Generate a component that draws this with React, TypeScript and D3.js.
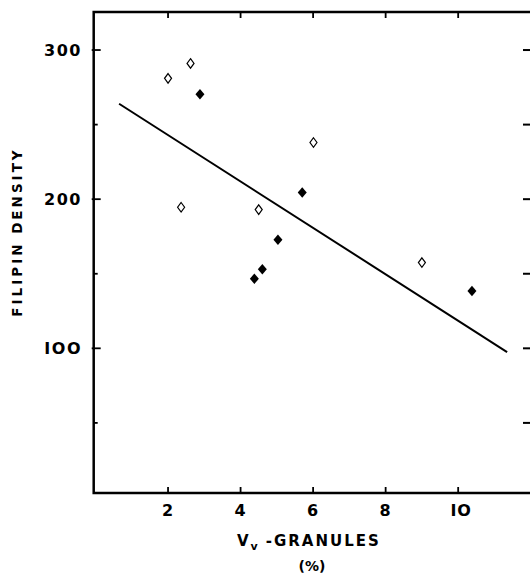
import React from "react";
import * as d3 from "d3";

const xTicks = [2, 4, 6, 8, 10];
const xTickLabels = ["2", "4", "6", "8", "IO"];
const yMajor = [100, 200, 300];
const yMajorLabels = ["IOO", "200", "300"];
const yMinor = [50, 150, 250];
const rightTicks = [50, 100, 150, 200, 250, 300];

const openX = [2.0, 2.62, 2.36, 4.5, 6.01, 9.0];
const openY = [281, 291, 194.6, 193, 238, 157.5];
const filledX = [2.88, 5.7, 5.03, 4.6, 4.38, 10.38];
const filledY = [270.4, 204.5, 172.8, 153, 146.6, 138.5];

const lineX = [0.65, 11.35];
const lineY = [264, 97.5];

const W = 530;
const H = 574;

export default function App() {
  const x = d3.scaleLinear().domain([-0.05, 12]).range([93.7, 530.7]);
  const y = d3.scaleLinear().domain([3, 325.5]).range([493, 12]);
  const font = "'DejaVu Sans', 'Liberation Sans', sans-serif";

  const diamond = (cx: number, cy: number, w: number, h: number) =>
    `M${cx},${cy - h / 2}L${cx + w / 2},${cy}L${cx},${cy + h / 2}L${cx - w / 2},${cy}Z`;

  const line = d3
    .line<number>()
    .x((d) => x(lineX[d]))
    .y((d) => y(lineY[d]));

  const x0 = x(-0.05);
  const x1 = x(12);
  const yb = y(3);
  const yt = y(325.5);

  return (
    <svg
      width={W}
      height={H}
      style={{ position: "absolute", left: 0, top: 0, background: "#fff" }}
    >
      {/* frame */}
      <path
        d={`M${x1},${yt}L${x0},${yt}L${x0},${yb}L${x1},${yb}`}
        fill="none"
        stroke="#000"
        strokeWidth={2.5}
      />
      {/* bottom & top ticks */}
      {xTicks.map((t) => (
        <g key={"xt" + t}>
          <line x1={x(t)} x2={x(t)} y1={yb} y2={yb - 6} stroke="#000" strokeWidth={1.8} />
          <line x1={x(t)} x2={x(t)} y1={yt} y2={yt + 6} stroke="#000" strokeWidth={1.8} />
        </g>
      ))}
      {xTicks.map((t, i) => (
        <text
          key={"xl" + t}
          x={x(t) + (i === 4 ? 3 : 0)}
          y={516}
          textAnchor="middle"
          fontFamily={font}
          fontWeight="bold"
          fontSize={16}
          letterSpacing={1}
        >
          {xTickLabels[i]}
        </text>
      ))}
      {/* left ticks */}
      {yMajor.map((t) => (
        <line key={"ym" + t} x1={x0 - 2} x2={x0 + 7} y1={y(t)} y2={y(t)} stroke="#000" strokeWidth={1.8} />
      ))}
      {yMinor.map((t) => (
        <line key={"yn" + t} x1={x0} x2={x0 + 4} y1={y(t)} y2={y(t)} stroke="#000" strokeWidth={1.8} />
      ))}
      {yMajor.map((t, i) => (
        <text
          key={"yl" + t}
          x={82}
          y={y(t) + 6}
          textAnchor="end"
          fontFamily={font}
          fontWeight="bold"
          fontSize={16}
          letterSpacing={1.5}
        >
          {yMajorLabels[i]}
        </text>
      ))}
      {/* right ticks */}
      {rightTicks.map((t) => (
        <line key={"yr" + t} x1={523} x2={530} y1={y(t)} y2={y(t)} stroke="#000" strokeWidth={2} />
      ))}
      {/* regression line */}
      <path d={line([0, 1]) || ""} fill="none" stroke="#000" strokeWidth={2} />
      {/* open diamonds */}
      {openX.map((v, i) => (
        <path
          key={"o" + i}
          d={diamond(x(v), y(openY[i]), 7, 9.5)}
          fill="#fff"
          stroke="#000"
          strokeWidth={1.2}
        />
      ))}
      {/* filled diamonds */}
      {filledX.map((v, i) => (
        <path key={"f" + i} d={diamond(x(v), y(filledY[i]), 9, 10.5)} fill="#000" />
      ))}
      {/* y title */}
      <text
        transform={`translate(22,232) rotate(-90)`}
        textAnchor="middle"
        fontFamily={font}
        fontWeight="bold"
        fontSize={13.5}
        letterSpacing={3}
      >
        FILIPIN DENSITY
      </text>
      {/* x title */}
      <text x={237} y={546} fontFamily={font} fontWeight="bold" fontSize={15} letterSpacing={2}>
        V
        <tspan fontSize={11} dy={4}>v</tspan>
        <tspan dy={-4} dx={6}>-GRANULES</tspan>
      </text>
      <text x={312} y={571} textAnchor="middle" fontFamily={font} fontWeight="bold" fontSize={14}>
        (%)
      </text>
    </svg>
  );
}
